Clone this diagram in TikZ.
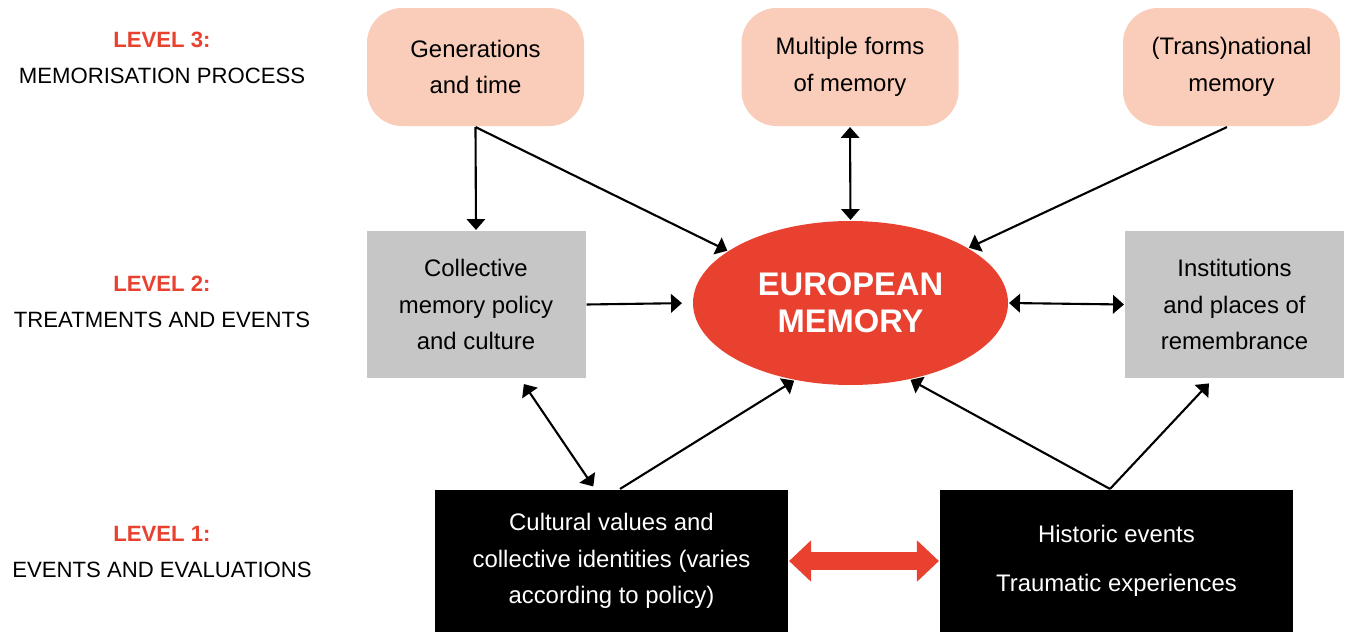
\documentclass[tikz,border=0pt]{standalone}
\usepackage{fontspec}
\setmainfont{Liberation Sans}
\usetikzlibrary{arrows.meta,shapes.geometric}
\definecolor{peach}{HTML}{F9CDBA}
\definecolor{boxgray}{HTML}{C6C6C6}
\definecolor{eured}{HTML}{E8412F}

\begin{document}
\begin{tikzpicture}[>={Triangle[length=6.2pt,width=10.5pt]},line width=1.2pt,
 txt/.style={font=\fontsize{13.6}{20.8}\selectfont,align=center,inner sep=0pt},
 lvl/.style={font=\fontsize{12.6}{20.5}\selectfont,align=center},
 proc/.style={txt,fill=peach,rounded corners=0.7cm,minimum width=4.34cm,minimum height=2.36cm},
 treat/.style={txt,fill=boxgray,minimum width=4.38cm,minimum height=2.94cm},
 ev/.style={txt,fill=black,text=white,minimum width=7.06cm,minimum height=2.84cm}]
\useasboundingbox (0,0) rectangle (26.92,-12.64);
% levels
\node[lvl] (l3) at (3.24,-1.15) {\textcolor{eured}{\textbf{LEVEL 3:}}\\MEMORISATION PROCESS};
\node[lvl] (l2) at (3.24,-6.03) {\textcolor{eured}{\textbf{LEVEL 2:}}\\TREATMENTS AND EVENTS};
\node[lvl] (l1) at (3.24,-11.03) {\textcolor{eured}{\textbf{LEVEL 1:}}\\EVENTS AND EVALUATIONS};
% level 3
\node[proc] (gen) at (9.51,-1.34) {Generations\\and time};
\node[proc] (multi) at (17.0,-1.34) {Multiple forms\\of memory};
\node[proc] (trans) at (24.63,-1.34) {(Trans)national\\memory};
% level 2
\node[treat] (colpol) at (9.52,-6.09) {Collective\\memory policy\\and culture};
\node[treat] (inst) at (24.69,-6.09) {Institutions\\and places of\\remembrance};
\node[ellipse,fill=eured,text=white,inner sep=0pt,minimum width=6.3cm,minimum height=3.28cm,
 font=\fontsize{18.6}{20.8}\selectfont\bfseries,align=center] (eu) at (17.01,-6.06) {EUROPEAN\\MEMORY};
% level 1
\node[ev] (cult) at (12.23,-11.22) {Cultural values and\\collective identities (varies\\according to policy)};
\node[ev] (hist) at (22.33,-11.22) {Historic events\\[0.25cm]Traumatic experiences};
% connectors
\draw[->] (gen.south) -- (colpol.north);
\draw[->] (gen.south) -- (eu.157);
\draw[<->] (multi.south) -- (eu.north);
\draw[->] ([xshift=-0.09cm]trans.south) -- (eu.25);
\draw[->,shorten >=0.2cm] (colpol.east) -- (eu.west);
\draw[<->] (eu.east) -- (inst.west);
\draw[<->,shorten <=0.12cm,shorten >=0.06cm] ([xshift=0.89cm]colpol.south) -- ([xshift=-0.33cm]cult.north);
\draw[->] ([xshift=0.17cm]cult.north) -- (eu.234);
\draw[->] ([xshift=-0.13cm]hist.north) -- (eu.308);
\draw[->,shorten >=0.12cm] ([xshift=-0.13cm]hist.north) -- ([xshift=-0.43cm]inst.south);
\draw[eured,line width=0.36cm,{Triangle[length=0.44cm,width=0.8cm]}-{Triangle[length=0.44cm,width=0.8cm]}] (cult.east) -- (hist.west);
\end{tikzpicture}
\end{document}
